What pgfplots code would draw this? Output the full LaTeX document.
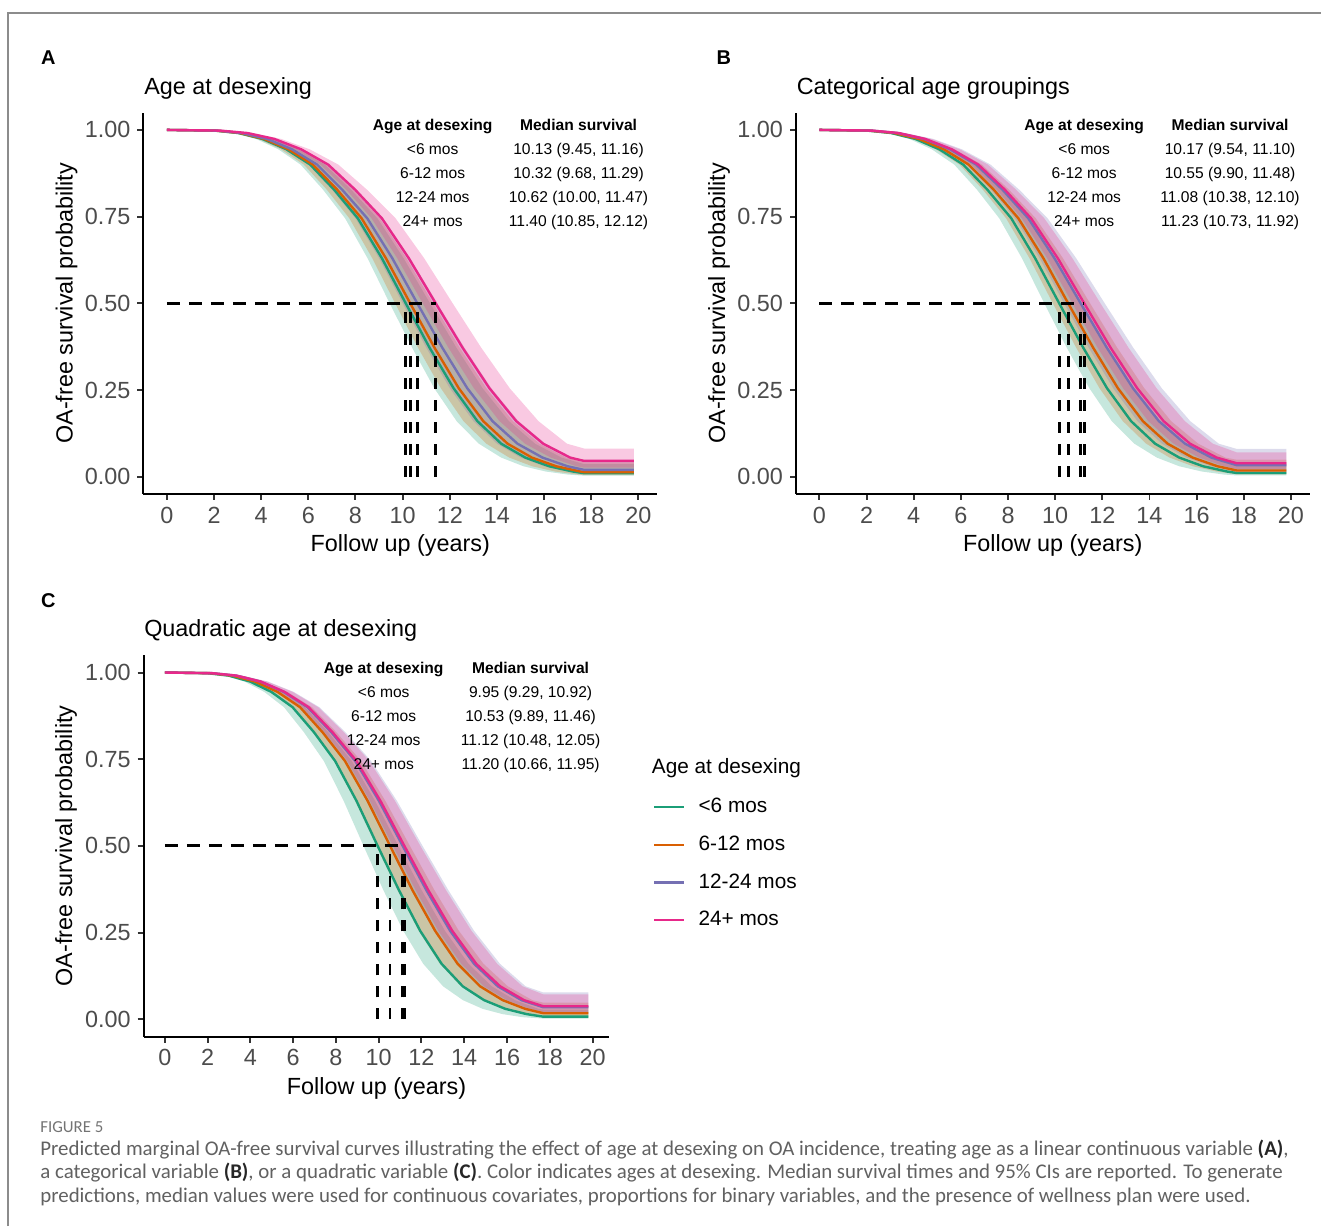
\documentclass[border=0pt]{standalone}
\usepackage{fontspec}
\setmainfont{Liberation Sans}
\newfontfamily\capfont{Carlito}
\usepackage{pgfplots}
\pgfplotsset{compat=1.18}
\usepgfplotslibrary{fillbetween}

\definecolor{c1}{HTML}{1B9E77}
\definecolor{c2}{HTML}{D95F02}
\definecolor{c3}{HTML}{7570B3}
\definecolor{c4}{HTML}{E7298A}
\newcommand\fs[1]{\fontsize{#1}{14}\selectfont}

\pgfplotsset{
  km/.style={
    scale only axis, height=190.85pt, anchor=south west,
    xmin=-0.99, xmax=20.79, ymin=-0.05, ymax=1.05,
    axis x line=bottom, axis y line=left,
    axis line style={-, line width=1pt, black},
    xtick={0,2,...,20}, xticklabels={0,2,4,6,8,10,12,14,16,18,20},
    ytick={0,0.25,0.5,0.75,1}, yticklabels={0.00,0.25,0.50,0.75,1.00},
    tick align=outside, major tick length=3pt,
    major tick style={line width=1pt, black!80},
    tick label style={font=\fs{11.7}, text=black!70},
    label style={font=\fs{11.7}},
    xlabel={Follow up (years)}, ylabel={OA-free survival probability},
    xlabel style={at={(axis description cs:0.5,-0.1353)}, anchor=center},
  },
  est/.style={#1, line width=1.2pt, forget plot},
  bnd/.style={draw=none, forget plot},
  rib/.style={draw=none, fill=#1, fill opacity=0.25, forget plot},
  medh/.style={black, line width=1.4pt, dash pattern=on 6.5pt off 4.5pt, forget plot},
  medv/.style={black, line width=1.4pt, dash pattern=on 5.5pt off 5.5pt, forget plot},
}

\begin{document}
\begin{tikzpicture}
\path (0,0) rectangle (661pt,-613.5pt);
\draw[black!45, line width=1pt] (4pt,-613.5pt) -- (4pt,-6.5pt) -- (661pt,-6.5pt);

% ---------------- A: age at desexing (linear)
\begin{axis}[km, width=257pt, at={(71.8pt,-247.175pt)},
  ylabel style={at={(axis description cs:-0.1498,0.5)}, anchor=center}]
\addplot[est=c1] coordinates {(0,1) (2.03,0.998) (3.04,0.991) (4.05,0.974) (5.07,0.944) (6.08,0.900) (7.09,0.828) (8.10,0.745) (9.12,0.630) (10.13,0.5) (11.14,0.372) (12.16,0.255) (13.17,0.160) (14.18,0.095) (15.20,0.055) (16.21,0.030) (17.22,0.0148) (17.7,0.0098) (19.8,0.0098)};
\addplot[est=c2] coordinates {(0,1) (2.06,0.998) (3.10,0.991) (4.13,0.974) (5.16,0.944) (6.19,0.900) (7.22,0.828) (8.26,0.745) (9.29,0.630) (10.32,0.5) (11.35,0.372) (12.38,0.255) (13.42,0.160) (14.45,0.095) (15.48,0.055) (16.51,0.030) (17.54,0.0148) (17.7,0.0130) (19.8,0.0130)};
\addplot[est=c3] coordinates {(0,1) (2.12,0.998) (3.19,0.991) (4.25,0.974) (5.31,0.944) (6.37,0.900) (7.43,0.828) (8.50,0.745) (9.56,0.630) (10.62,0.5) (11.68,0.372) (12.74,0.255) (13.81,0.160) (14.87,0.095) (15.93,0.055) (16.99,0.030) (17.7,0.0195) (19.8,0.0195)};
\addplot[est=c4] coordinates {(0,1) (2.28,0.998) (3.42,0.991) (4.56,0.974) (5.70,0.944) (6.84,0.900) (7.98,0.828) (9.12,0.745) (10.26,0.630) (11.40,0.5) (12.54,0.372) (13.68,0.255) (14.82,0.160) (15.96,0.095) (17.10,0.055) (17.7,0.0453) (19.8,0.0453)};
% ribbons
\addplot[bnd, name path=A1u] coordinates {(0,1) (2.23,0.998) (3.35,0.991) (4.46,0.974) (5.58,0.944) (6.70,0.900) (7.81,0.828) (8.93,0.745) (10.04,0.630) (11.16,0.5) (12.28,0.372) (13.39,0.255) (14.51,0.160) (15.62,0.095) (16.74,0.055) (17.7,0.0360) (19.8,0.0360)};
\addplot[bnd, name path=A1l] coordinates {(0,1) (1.89,0.998) (2.84,0.991) (3.78,0.974) (4.73,0.944) (5.67,0.900) (6.62,0.828) (7.56,0.745) (8.51,0.630) (9.45,0.5) (10.40,0.372) (11.34,0.255) (12.29,0.160) (13.23,0.095) (14.18,0.055) (15.12,0.030) (16.07,0.0148) (17.01,0.0060) (17.7,0.0029) (19.8,0.0029)};
\addplot[rib=c1] fill between[of=A1u and A1l];
\addplot[bnd, name path=A2u] coordinates {(0,1) (2.26,0.998) (3.39,0.991) (4.52,0.974) (5.65,0.944) (6.77,0.900) (7.90,0.828) (9.03,0.745) (10.16,0.630) (11.29,0.5) (12.42,0.372) (13.55,0.255) (14.68,0.160) (15.81,0.095) (16.94,0.055) (17.7,0.0409) (19.8,0.0409)};
\addplot[bnd, name path=A2l] coordinates {(0,1) (1.94,0.998) (2.90,0.991) (3.87,0.974) (4.84,0.944) (5.81,0.900) (6.78,0.828) (7.74,0.745) (8.71,0.630) (9.68,0.5) (10.65,0.372) (11.62,0.255) (12.58,0.160) (13.55,0.095) (14.52,0.055) (15.49,0.030) (16.46,0.0148) (17.42,0.0060) (17.7,0.0045) (19.8,0.0045)};
\addplot[rib=c2] fill between[of=A2u and A2l];
\addplot[bnd, name path=A3u] coordinates {(0,1) (2.29,0.998) (3.44,0.991) (4.59,0.974) (5.74,0.944) (6.88,0.900) (8.03,0.828) (9.18,0.745) (10.32,0.630) (11.47,0.5) (12.62,0.372) (13.76,0.255) (14.91,0.160) (16.06,0.095) (17.21,0.055) (17.7,0.0483) (19.8,0.0483)};
\addplot[bnd, name path=A3l] coordinates {(0,1) (2,0.998) (3,0.991) (4,0.974) (5,0.944) (6,0.900) (7,0.828) (8,0.745) (9,0.630) (10,0.5) (11,0.372) (12,0.255) (13,0.160) (14,0.095) (15,0.055) (16,0.030) (17,0.0148) (17.7,0.0080) (19.8,0.0080)};
\addplot[rib=c3] fill between[of=A3u and A3l];
\addplot[bnd, name path=A4u] coordinates {(0,1) (2.42,0.998) (3.64,0.991) (4.85,0.974) (6.06,0.944) (7.27,0.900) (8.48,0.828) (9.70,0.745) (10.91,0.630) (12.12,0.5) (13.33,0.372) (14.54,0.255) (15.76,0.160) (16.97,0.095) (17.7,0.0811) (19.8,0.0811)};
\addplot[bnd, name path=A4l] coordinates {(0,1) (2.17,0.998) (3.26,0.991) (4.34,0.974) (5.43,0.944) (6.51,0.900) (7.60,0.828) (8.68,0.745) (9.77,0.630) (10.85,0.5) (11.94,0.372) (13.02,0.255) (14.11,0.160) (15.19,0.095) (16.28,0.055) (17.36,0.030) (17.7,0.0257) (19.8,0.0257)};
\addplot[rib=c4] fill between[of=A4u and A4l];
% median lines
\addplot[medh] coordinates {(0,0.5) (11.40,0.5)};
\addplot[medv] coordinates {(10.13,0) (10.13,0.5)};
\addplot[medv] coordinates {(10.32,0) (10.32,0.5)};
\addplot[medv] coordinates {(10.62,0) (10.62,0.5)};
\addplot[medv] coordinates {(11.40,0) (11.40,0.5)};
\end{axis}

% ---------------- B: categorical
\begin{axis}[km, width=257pt, at={(398.3pt,-247.175pt)},
  ylabel style={at={(axis description cs:-0.1498,0.5)}, anchor=center}]
\addplot[est=c1] coordinates {(0,1) (2.03,0.998) (3.05,0.991) (4.07,0.974) (5.09,0.944) (6.10,0.900) (7.12,0.828) (8.14,0.745) (9.15,0.630) (10.17,0.5) (11.19,0.372) (12.20,0.255) (13.22,0.160) (14.24,0.095) (15.26,0.055) (16.27,0.030) (17.29,0.0148) (17.7,0.0105) (19.8,0.0105)};
\addplot[est=c2] coordinates {(0,1) (2.11,0.998) (3.17,0.991) (4.22,0.974) (5.28,0.944) (6.33,0.900) (7.39,0.828) (8.44,0.745) (9.50,0.630) (10.55,0.5) (11.61,0.372) (12.66,0.255) (13.72,0.160) (14.77,0.095) (15.83,0.055) (16.88,0.030) (17.7,0.0178) (19.8,0.0178)};
\addplot[est=c3] coordinates {(0,1) (2.22,0.998) (3.32,0.991) (4.43,0.974) (5.54,0.944) (6.65,0.900) (7.76,0.828) (8.86,0.745) (9.97,0.630) (11.08,0.5) (12.19,0.372) (13.30,0.255) (14.40,0.160) (15.51,0.095) (16.62,0.055) (17.7,0.0331) (19.8,0.0331)};
\addplot[est=c4] coordinates {(0,1) (2.25,0.998) (3.37,0.991) (4.49,0.974) (5.62,0.944) (6.74,0.900) (7.86,0.828) (8.98,0.745) (10.11,0.630) (11.23,0.5) (12.35,0.372) (13.48,0.255) (14.60,0.160) (15.72,0.095) (16.85,0.055) (17.7,0.0386) (19.8,0.0386)};
\addplot[bnd, name path=B1u] coordinates {(0,1) (2.22,0.998) (3.33,0.991) (4.44,0.974) (5.55,0.944) (6.66,0.900) (7.77,0.828) (8.88,0.745) (9.99,0.630) (11.10,0.5) (12.21,0.372) (13.32,0.255) (14.43,0.160) (15.54,0.095) (16.65,0.055) (17.7,0.0338) (19.8,0.0338)};
\addplot[bnd, name path=B1l] coordinates {(0,1) (1.91,0.998) (2.86,0.991) (3.82,0.974) (4.77,0.944) (5.72,0.900) (6.68,0.828) (7.63,0.745) (8.59,0.630) (9.54,0.5) (10.49,0.372) (11.45,0.255) (12.40,0.160) (13.36,0.095) (14.31,0.055) (15.26,0.030) (16.22,0.0148) (17.17,0.0060) (17.7,0.0035) (19.8,0.0035)};
\addplot[rib=c1] fill between[of=B1u and B1l];
\addplot[bnd, name path=B2u] coordinates {(0,1) (2.30,0.998) (3.44,0.991) (4.59,0.974) (5.74,0.944) (6.89,0.900) (8.04,0.828) (9.18,0.745) (10.33,0.630) (11.48,0.5) (12.63,0.372) (13.78,0.255) (14.92,0.160) (16.07,0.095) (17.22,0.055) (17.7,0.0488) (19.8,0.0488)};
\addplot[bnd, name path=B2l] coordinates {(0,1) (1.98,0.998) (2.97,0.991) (3.96,0.974) (4.95,0.944) (5.94,0.900) (6.93,0.828) (7.92,0.745) (8.91,0.630) (9.90,0.5) (10.89,0.372) (11.88,0.255) (12.87,0.160) (13.86,0.095) (14.85,0.055) (15.84,0.030) (16.83,0.0148) (17.7,0.0068) (19.8,0.0068)};
\addplot[rib=c2] fill between[of=B2u and B2l];
\addplot[bnd, name path=B3u] coordinates {(0,1) (2.42,0.998) (3.63,0.991) (4.84,0.974) (6.05,0.944) (7.26,0.900) (8.47,0.828) (9.68,0.745) (10.89,0.630) (12.10,0.5) (13.31,0.372) (14.52,0.255) (15.73,0.160) (16.94,0.095) (17.7,0.0800) (19.8,0.0800)};
\addplot[bnd, name path=B3l] coordinates {(0,1) (2.08,0.998) (3.11,0.991) (4.15,0.974) (5.19,0.944) (6.23,0.900) (7.27,0.828) (8.30,0.745) (9.34,0.630) (10.38,0.5) (11.42,0.372) (12.46,0.255) (13.49,0.160) (14.53,0.095) (15.57,0.055) (16.61,0.030) (17.65,0.0148) (17.7,0.0142) (19.8,0.0142)};
\addplot[rib=c3] fill between[of=B3u and B3l];
\addplot[bnd, name path=B4u] coordinates {(0,1) (2.38,0.998) (3.58,0.991) (4.77,0.974) (5.96,0.944) (7.15,0.900) (8.34,0.828) (9.54,0.745) (10.73,0.630) (11.92,0.5) (13.11,0.372) (14.30,0.255) (15.50,0.160) (16.69,0.095) (17.7,0.0701) (19.8,0.0701)};
\addplot[bnd, name path=B4l] coordinates {(0,1) (2.15,0.998) (3.22,0.991) (4.29,0.974) (5.37,0.944) (6.44,0.900) (7.51,0.828) (8.58,0.745) (9.66,0.630) (10.73,0.5) (11.80,0.372) (12.88,0.255) (13.95,0.160) (15.02,0.095) (16.10,0.055) (17.17,0.030) (17.7,0.0224) (19.8,0.0224)};
\addplot[rib=c4] fill between[of=B4u and B4l];
\addplot[medh] coordinates {(0,0.5) (11.23,0.5)};
\addplot[medv] coordinates {(10.17,0) (10.17,0.5)};
\addplot[medv] coordinates {(10.55,0) (10.55,0.5)};
\addplot[medv] coordinates {(11.08,0) (11.08,0.5)};
\addplot[medv] coordinates {(11.23,0) (11.23,0.5)};
\end{axis}

% ---------------- C: quadratic
\begin{axis}[km, width=233.05pt, at={(71.9pt,-518.675pt)},
  ylabel style={at={(axis description cs:-0.1669,0.5)}, anchor=center},
  legend style={at={(axis description cs:1.094,0.6245)}, anchor=north west,
    draw=none, fill=none, inner sep=0pt, outer sep=0pt, font=\fs{10.4},
    row sep=10.05pt, nodes={inner sep=0pt},
    /tikz/every odd column/.append style={column sep=6.5pt}},
  legend cell align=left,
  legend image code/.code={\draw[#1] (0pt,0pt) -- (15pt,0pt);}]
\addplot[est=c1] coordinates {(0,1) (1.99,0.998) (2.99,0.991) (3.98,0.974) (4.98,0.944) (5.97,0.900) (6.97,0.828) (7.96,0.745) (8.96,0.630) (9.95,0.5) (10.95,0.372) (11.94,0.255) (12.94,0.160) (13.93,0.095) (14.93,0.055) (15.92,0.030) (16.92,0.0148) (17.7,0.0074) (19.8,0.0074)};
\addplot[est=c2] coordinates {(0,1) (2.11,0.998) (3.16,0.991) (4.21,0.974) (5.27,0.944) (6.32,0.900) (7.37,0.828) (8.42,0.745) (9.48,0.630) (10.53,0.5) (11.58,0.372) (12.64,0.255) (13.69,0.160) (14.74,0.095) (15.80,0.055) (16.85,0.030) (17.7,0.0174) (19.8,0.0174)};
\addplot[est=c3] coordinates {(0,1) (2.22,0.998) (3.34,0.991) (4.45,0.974) (5.56,0.944) (6.67,0.900) (7.78,0.828) (8.90,0.745) (10.01,0.630) (11.12,0.5) (12.23,0.372) (13.34,0.255) (14.46,0.160) (15.57,0.095) (16.68,0.055) (17.7,0.0345) (19.8,0.0345)};
\addplot[est=c4] coordinates {(0,1) (2.24,0.998) (3.36,0.991) (4.48,0.974) (5.60,0.944) (6.72,0.900) (7.84,0.828) (8.96,0.745) (10.08,0.630) (11.20,0.5) (12.32,0.372) (13.44,0.255) (14.56,0.160) (15.68,0.095) (16.80,0.055) (17.7,0.0374) (19.8,0.0374)};
\addplot[bnd, name path=C1u] coordinates {(0,1) (2.18,0.998) (3.28,0.991) (4.37,0.974) (5.46,0.944) (6.55,0.900) (7.64,0.828) (8.74,0.745) (9.83,0.630) (10.92,0.5) (12.01,0.372) (13.10,0.255) (14.20,0.160) (15.29,0.095) (16.38,0.055) (17.47,0.030) (17.7,0.0279) (19.8,0.0279)};
\addplot[bnd, name path=C1l] coordinates {(0,1) (1.86,0.998) (2.79,0.991) (3.72,0.974) (4.65,0.944) (5.57,0.900) (6.50,0.828) (7.43,0.745) (8.36,0.630) (9.29,0.5) (10.22,0.372) (11.15,0.255) (12.08,0.160) (13.01,0.095) (13.94,0.055) (14.86,0.030) (15.79,0.0148) (16.72,0.0060) (17.65,0.0021) (17.7,0.0020) (19.8,0.0020)};
\addplot[rib=c1] fill between[of=C1u and C1l];
\addplot[bnd, name path=C2u] coordinates {(0,1) (2.29,0.998) (3.44,0.991) (4.58,0.974) (5.73,0.944) (6.88,0.900) (8.02,0.828) (9.17,0.745) (10.31,0.630) (11.46,0.5) (12.61,0.372) (13.75,0.255) (14.90,0.160) (16.04,0.095) (17.19,0.055) (17.7,0.0479) (19.8,0.0479)};
\addplot[bnd, name path=C2l] coordinates {(0,1) (1.98,0.998) (2.97,0.991) (3.96,0.974) (4.95,0.944) (5.93,0.900) (6.92,0.828) (7.91,0.745) (8.90,0.630) (9.89,0.5) (10.88,0.372) (11.87,0.255) (12.86,0.160) (13.85,0.095) (14.84,0.055) (15.82,0.030) (16.81,0.0148) (17.7,0.0066) (19.8,0.0066)};
\addplot[rib=c2] fill between[of=C2u and C2l];
\addplot[bnd, name path=C3u] coordinates {(0,1) (2.41,0.998) (3.62,0.991) (4.82,0.974) (6.03,0.944) (7.23,0.900) (8.44,0.828) (9.64,0.745) (10.85,0.630) (12.05,0.5) (13.26,0.372) (14.46,0.255) (15.67,0.160) (16.87,0.095) (17.7,0.0772) (19.8,0.0772)};
\addplot[bnd, name path=C3l] coordinates {(0,1) (2.10,0.998) (3.14,0.991) (4.19,0.974) (5.24,0.944) (6.29,0.900) (7.34,0.828) (8.38,0.745) (9.43,0.630) (10.48,0.5) (11.53,0.372) (12.58,0.255) (13.62,0.160) (14.67,0.095) (15.72,0.055) (16.77,0.030) (17.7,0.0163) (19.8,0.0163)};
\addplot[rib=c3] fill between[of=C3u and C3l];
\addplot[bnd, name path=C4u] coordinates {(0,1) (2.39,0.998) (3.59,0.991) (4.78,0.974) (5.98,0.944) (7.17,0.900) (8.37,0.828) (9.56,0.745) (10.76,0.630) (11.95,0.5) (13.15,0.372) (14.34,0.255) (15.54,0.160) (16.73,0.095) (17.7,0.0717) (19.8,0.0717)};
\addplot[bnd, name path=C4l] coordinates {(0,1) (2.13,0.998) (3.20,0.991) (4.26,0.974) (5.33,0.944) (6.40,0.900) (7.46,0.828) (8.53,0.745) (9.59,0.630) (10.66,0.5) (11.73,0.372) (12.79,0.255) (13.86,0.160) (14.92,0.095) (15.99,0.055) (17.06,0.030) (17.7,0.0205) (19.8,0.0205)};
\addplot[rib=c4] fill between[of=C4u and C4l];
\addplot[medh] coordinates {(0,0.5) (11.20,0.5)};
\addplot[medv] coordinates {(9.95,0) (9.95,0.5)};
\addplot[medv] coordinates {(10.53,0) (10.53,0.5)};
\addplot[medv] coordinates {(11.12,0) (11.12,0.5)};
\addplot[medv] coordinates {(11.20,0) (11.20,0.5)};
\addlegendimage{c1, line width=1.2pt}\addlegendentry{<6 mos}
\addlegendimage{c2, line width=1.2pt}\addlegendentry{6-12 mos}
\addlegendimage{c3, line width=1.2pt}\addlegendentry{12-24 mos}
\addlegendimage{c4, line width=1.2pt}\addlegendentry{24+ mos}
\end{axis}

% ---------------- panel tags and titles
\node[anchor=base west, font=\bfseries\fs{10}] at (17pt,-32.5pt) {A};
\node[anchor=base west, font=\bfseries\fs{10}] at (355pt,-32.5pt) {B};
\node[anchor=base west, font=\bfseries\fs{10}] at (17pt,-304pt) {C};
\begin{scope}[every node/.style={anchor=base west, inner sep=0pt}]
\node[font=\fs{11.7}] at (72pt,-47.5pt) {Age at desexing};
\node[font=\fs{11.7}] at (398.5pt,-47.5pt) {Categorical age groupings};
\node[font=\fs{11.7}] at (72pt,-318.5pt) {Quadratic age at desexing};
\node[font=\fs{10.4}] at (326pt,-387pt) {Age at desexing};
\end{scope}

% ---------------- median tables
\begin{scope}[every node/.style={anchor=base, font=\fs{7.8}}]
\node[font=\bfseries\fs{7.8}] at (216.5pt,-65.3pt) {Age at desexing};
\node[font=\bfseries\fs{7.8}] at (289.5pt,-65.3pt) {Median survival};
\node at (216.5pt,-77.3pt) {<6 mos};    \node at (289.5pt,-77.3pt) {10.13 (9.45, 11.16)};
\node at (216.5pt,-89.3pt) {6-12 mos};  \node at (289.5pt,-89.3pt) {10.32 (9.68, 11.29)};
\node at (216.5pt,-101.3pt) {12-24 mos}; \node at (289.5pt,-101.3pt) {10.62 (10.00, 11.47)};
\node at (216.5pt,-113.3pt) {24+ mos};  \node at (289.5pt,-113.3pt) {11.40 (10.85, 12.12)};

\node[font=\bfseries\fs{7.8}] at (542.5pt,-65.3pt) {Age at desexing};
\node[font=\bfseries\fs{7.8}] at (615.5pt,-65.3pt) {Median survival};
\node at (542.5pt,-77.3pt) {<6 mos};    \node at (615.5pt,-77.3pt) {10.17 (9.54, 11.10)};
\node at (542.5pt,-89.3pt) {6-12 mos};  \node at (615.5pt,-89.3pt) {10.55 (9.90, 11.48)};
\node at (542.5pt,-101.3pt) {12-24 mos}; \node at (615.5pt,-101.3pt) {11.08 (10.38, 12.10)};
\node at (542.5pt,-113.3pt) {24+ mos};  \node at (615.5pt,-113.3pt) {11.23 (10.73, 11.92)};

\node[font=\bfseries\fs{7.8}] at (192pt,-337pt) {Age at desexing};
\node[font=\bfseries\fs{7.8}] at (265.5pt,-337pt) {Median survival};
\node at (192pt,-349pt) {<6 mos};    \node at (265.5pt,-349pt) {9.95 (9.29, 10.92)};
\node at (192pt,-361pt) {6-12 mos};  \node at (265.5pt,-361pt) {10.53 (9.89, 11.46)};
\node at (192pt,-373pt) {12-24 mos}; \node at (265.5pt,-373pt) {11.12 (10.48, 12.05)};
\node at (192pt,-385pt) {24+ mos};  \node at (265.5pt,-385pt) {11.20 (10.66, 11.95)};
\end{scope}

% ---------------- caption
\begin{scope}[every node/.style={anchor=base west, inner sep=0pt}]
\node[font=\capfont\fs{8.4}, text=black!55] at (20pt,-566.5pt) {FIGURE 5};
\node[font=\capfont\fs{10.45}, text=black!62] at (20pt,-578pt) {Predicted marginal OA-free survival curves illustrating the effect of age at desexing on OA incidence, treating age as a linear continuous variable {\color{black!85}\bfseries(A)},};
\node[font=\capfont\fs{10.45}, text=black!62] at (20pt,-589.75pt) {a categorical variable {\color{black!85}\bfseries(B)}, or a quadratic variable {\color{black!85}\bfseries(C)}. Color indicates ages at desexing. Median survival times and 95\% CIs are reported. To generate};
\node[font=\capfont\fs{10.45}, text=black!62] at (20pt,-601.5pt) {predictions, median values were used for continuous covariates, proportions for binary variables, and the presence of wellness plan were used.};
\end{scope}
\end{tikzpicture}
\end{document}
